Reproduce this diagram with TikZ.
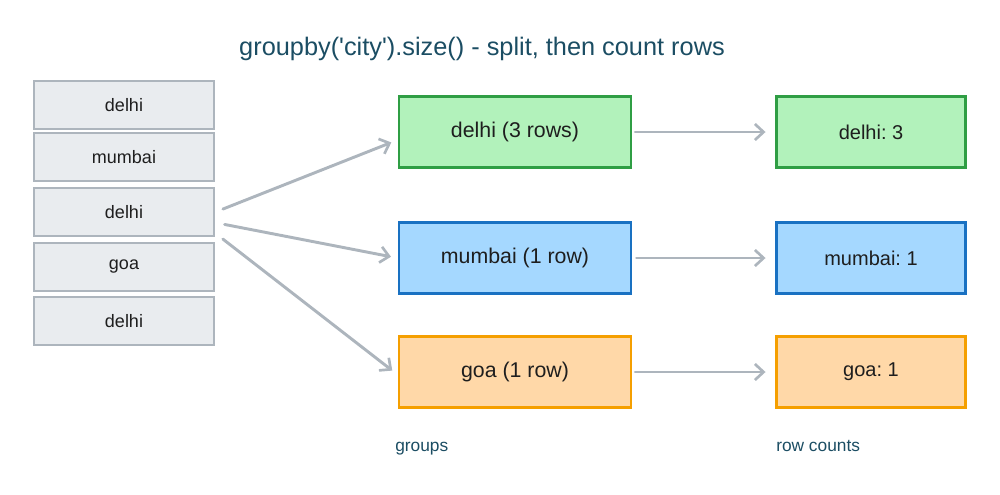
\documentclass[tikz,border=0pt]{standalone}
\usepackage{fontspec}
\setmainfont{Liberation Sans}
\usetikzlibrary{arrows.meta}

\definecolor{inkteal}{HTML}{1B4D63}
\definecolor{inkdark}{HTML}{1E1E1E}
\definecolor{rowfill}{HTML}{E9ECEF}
\definecolor{rowline}{HTML}{ADB5BD}
\definecolor{greenfill}{HTML}{B2F2BB}
\definecolor{greenline}{HTML}{2F9E44}
\definecolor{bluefill}{HTML}{A5D8FF}
\definecolor{blueline}{HTML}{1971C2}
\definecolor{orangefill}{HTML}{FFD8A8}
\definecolor{orangeline}{HTML}{F59F00}

\tikzset{
  rowbox/.style={draw=rowline, fill=rowfill, line width=2.2pt, minimum width=135pt, minimum height=36pt, inner sep=0pt, font=\fontsize{13.5}{16}\selectfont, text=inkdark},
  groupbox/.style={line width=2.2pt, minimum width=174pt, minimum height=53pt, inner sep=0pt, font=\fontsize{16}{19}\selectfont, text=inkdark},
  countbox/.style={line width=2.2pt, minimum width=142pt, minimum height=53pt, inner sep=0pt, font=\fontsize{15}{18}\selectfont, text=inkdark},
  flow/.style={draw=rowline, line width=2.2pt, line cap=round, -{Straight Barb[length=6.5pt,width=12pt,line width=2pt]}},
  caption/.style={anchor=base west, inner sep=0.75pt, text=inkteal, font=\fontsize{13}{15}\selectfont}
}

\begin{document}
\frenchspacing
\begin{tikzpicture}[x=0.75pt,y=0.75pt,yscale=-1,xscale=1]
\useasboundingbox (0,0) rectangle (1000,494);

% Text Node
\node (title) at (482,49) [text=inkteal, font=\fontsize{19}{22}\selectfont] {groupby(\textquotesingle city\textquotesingle).size() - split, then count rows};

%Shape: Rectangle rows
\node (r1) at (124,105) [rowbox] {delhi};
\node (r2) at (124,157) [rowbox] {mumbai};
\node (r3) at (124,212) [rowbox] {delhi};
\node (r4) at (124,267) [rowbox] {goa};
\node (r5) at (124,321) [rowbox] {delhi};

%Shape: Rectangle groups
\node (g1) at (515,132) [groupbox, draw=greenline, fill=greenfill] {delhi (3 rows)};
\node (g2) at (515,258) [groupbox, draw=blueline, fill=bluefill] {mumbai (1 row)};
\node (g3) at (515,372) [groupbox, draw=orangeline, fill=orangefill] {goa (1 row)};

%Shape: Rectangle counts
\node (c1) at (871,132) [countbox, draw=greenline, fill=greenfill] {delhi: 3};
\node (c2) at (871,258) [countbox, draw=blueline, fill=bluefill] {mumbai: 1};
\node (c3) at (871,372) [countbox, draw=orangeline, fill=orangefill] {goa: 1};

%Straight Lines split (yshift runs downwards here, yscale=-1)
\draw [flow, shorten <=6pt, shorten >=5pt] (r3.east) -- ([yshift=6pt]g1.west);
\draw [flow, shorten <=7pt, shorten >=5pt] ([yshift=8pt]r3.east) -- (g2.west);
\draw [flow, shorten <=7pt, shorten >=5pt] ([yshift=16pt]r3.east) -- ([yshift=2pt]g3.west);

%Straight Lines count
\draw [flow, shorten <=2pt, shorten >=7pt] (g1.east) -- (c1.west);
\draw [flow, shorten <=3pt, shorten >=7pt] (g2.east) -- (c2.west);
\draw [flow, shorten <=2pt, shorten >=7pt] (g3.east) -- (c3.west);

% Text Node
\node (lblgroups) at (394,451) [caption] {groups};
% Text Node
\node (lblcounts) at (775,451) [caption] {row counts};

\end{tikzpicture}
\end{document}
